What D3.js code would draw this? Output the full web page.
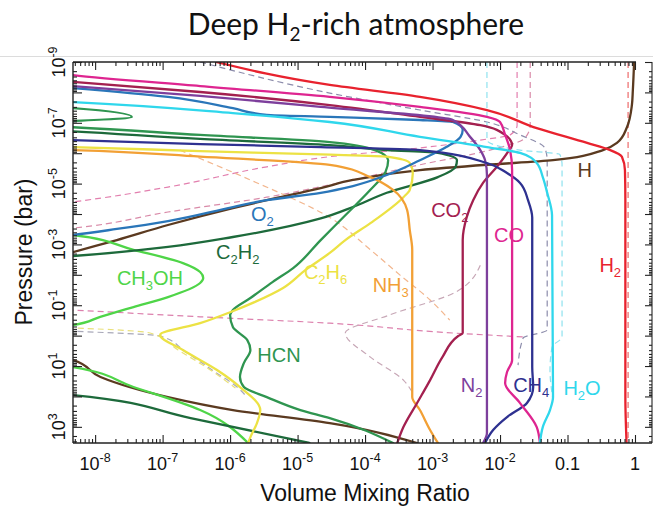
<!DOCTYPE html>
<html>
<head>
<meta charset="utf-8">
<script src="https://cdn.jsdelivr.net/npm/d3@7"></script>
<style>
  html, body { margin: 0; padding: 0; background: #fff; }
  svg { display: block; }
</style>
</head>
<body>
<svg id="chart" width="653" height="507"></svg>
<script>
// Volume mixing ratio profiles, each point is [VMR, pressure in bar], ordered by pressure.
// Points left of the plotted VMR range mark where a profile drops out of view.
const H2 = [[6.2e-7,1e-9],[3.0e-5,5.7e-9],[6.5e-4,1.4e-8],[6.4e-3,3.8e-8],[0.035,1.5e-7],[0.195,4.6e-7],[0.43,7.9e-7],[0.64,1.3e-6],[0.71,3.6e-6],[0.72,3.5e-5],[0.72,100],[0.75,3400]];
const Hatom = [[0.97,1e-9],[0.93,8.3e-9],[0.90,2.6e-8],[0.76,1.4e-7],[0.54,4.6e-7],[0.336,7.9e-7],[0.061,1.7e-6],[6.4e-3,2.4e-6],[6.5e-4,3.6e-6],[6.6e-5,7.6e-6],[2.2e-5,1.4e-5],[3.5e-6,3.5e-5],[1.1e-6,6.4e-5],[1.2e-7,2.3e-4],[2.1e-8,7.2e-4],[4.7e-9,1.8e-3],[1e-9,5e-3],[1e-10,0.3],[1e-9,3],[4.7e-9,6.4],[1.2e-8,23],[1.2e-7,105],[1.1e-6,280],[3.0e-5,750],[5.9e-4,3400]];
const H2O = [[1e-9,1.8e-8],[4.7e-9,2.1e-8],[1.1e-6,4.8e-8],[3.0e-5,9.4e-8],[6.5e-4,2.9e-7],[6.4e-3,6.3e-7],[0.0198,9.8e-7],[0.035,2.1e-6],[0.043,6.1e-6],[0.050,2.0e-5],[0.059,1.1e-4],[0.061,105],[0.055,280],[0.043,1020],[0.039,3400]];
const CH4 = [[1e-9,3.2e-7],[4.7e-9,3.7e-7],[3.6e-7,5.0e-7],[2.2e-5,6.3e-7],[6.5e-4,7.9e-7],[6.4e-3,2.1e-6],[0.0127,4.5e-6],[0.0198,9.5e-6],[0.026,3.5e-5],[0.030,1.3e-4],[0.030,10.8],[0.031,49],[0.0251,165],[0.0127,476],[7.9e-3,1270],[6.0e-3,3400]];
const CO = [[1e-9,1.5e-9],[4.7e-9,2.7e-9],[3.6e-7,6.2e-9],[3.0e-5,1.4e-8],[6.5e-4,3.0e-8],[6.4e-3,6.4e-8],[0.010,9.4e-8],[0.0119,2.5e-7],[0.0141,7.9e-7],[0.0151,3.6e-6],[0.0151,6.4],[0.0127,15.7],[0.0119,36],[0.0198,165],[0.035,1020],[0.039,3400]];
const CO2 = [[1e-9,3.5e-9],[4.7e-9,4.5e-9],[3.6e-7,9.7e-9],[3.0e-5,2.6e-8],[6.5e-4,6.4e-8],[5.1e-3,1.2e-7],[0.0119,2.5e-7],[0.0151,5.4e-7],[0.0131,9.1e-7],[9.0e-3,2.8e-6],[5.6e-3,9.5e-6],[4.0e-3,3.5e-5],[3.2e-3,1.3e-4],[2.8e-3,7.2e-4],[2.8e-3,0.82],[2.4e-3,1.03],[1.4e-3,5.1],[9.2e-4,29],[5.9e-4,165],[3.7e-4,1020],[3.0e-4,3400]];
const N2 = [[1e-9,4.5e-9],[4.7e-9,6.2e-9],[3.6e-7,1.3e-8],[2.2e-5,3.0e-8],[2.0e-3,8.1e-8],[3.6e-3,2.9e-7],[5.1e-3,7.9e-7],[6.0e-3,1.7e-6],[6.4e-3,5.2e-6],[6.4e-3,1600],[5.6e-3,3400]];
const NH3 = [[1e-9,7.2e-7],[4.7e-9,7.9e-7],[3.6e-7,1.3e-6],[3.0e-5,2.4e-6],[1.2e-4,6.1e-6],[2.6e-4,1.6e-5],[4.2e-4,7.4e-5],[4.6e-4,3.4e-4],[5.0e-4,1.5e-3],[5.0e-4,105],[6.5e-4,280],[9.2e-4,1270],[1.2e-3,3400]];
const C2H6 = [[1e-9,5.8e-7],[4.7e-9,6.3e-7],[3.6e-7,8.5e-7],[2.2e-5,1.1e-6],[2.1e-4,1.3e-6],[4.6e-4,2.1e-6],[5.1e-4,4.5e-6],[4.6e-4,1.6e-5],[3.7e-4,2.8e-5],[1.2e-4,2.0e-4],[5.1e-5,7.2e-4],[3.0e-5,1.9e-3],[1.3e-5,7.0e-3],[6.1e-6,0.027],[2.3e-6,0.079],[1.0e-6,0.17],[3.6e-7,0.39],[9.2e-8,0.95],[2.0e-7,2.98],[6.4e-7,13.5],[1.4e-6,49],[2.8e-6,280],[2.5e-6,750],[2.0e-6,2170],[1.85e-6,3400]];
const HCN = [[1e-9,3.0e-8],[4.7e-9,3.3e-8],[3.5e-8,6.4e-8],[4.7e-9,8.7e-8],[1e-9,1.0e-7],[1e-9,1.2e-7],[4.7e-9,1.4e-7],[3.6e-7,2.5e-7],[3.0e-5,4.3e-7],[1.4e-4,7.9e-7],[2.2e-4,1.7e-6],[2.0e-4,4.2e-6],[1.2e-4,1.6e-5],[5.1e-5,1.1e-4],[2.2e-5,7.2e-4],[8.6e-6,6.0e-3],[4.3e-6,0.017],[2.0e-6,0.058],[1.1e-6,0.144],[1.0e-6,0.21],[1.1e-6,0.52],[1.8e-6,1.40],[2.0e-6,2.98],[1.6e-6,8.0],[1.4e-6,23],[1.6e-6,49],[3.5e-6,105],[1.1e-5,280],[3.0e-5,513],[2.6e-4,3400]];
const C2H2 = [[1e-9,1.6e-7],[4.7e-9,1.9e-7],[3.6e-7,3.4e-7],[3.0e-5,5.4e-7],[2.1e-4,7.9e-7],[1.2e-3,9.8e-7],[2.3e-3,1.7e-6],[2.2e-3,2.8e-6],[1.2e-3,6.1e-6],[2.1e-4,2.0e-5],[6.6e-5,5.9e-5],[2.2e-5,1.4e-4],[1.1e-6,5.7e-4],[1.2e-7,1.2e-3],[4.7e-9,2.4e-3],[1e-9,3e-3],[1e-10,1],[1e-9,70],[4.7e-9,90],[2.6e-7,513],[1.5e-5,3400]];
const CH3OH = [[1e-9,4.0e-4],[4.7e-9,4.9e-4],[3.7e-8,1.5e-3],[2.0e-7,4.1e-3],[3.6e-7,8.1e-3],[4.0e-7,0.0127],[3.6e-7,0.0186],[1.2e-7,0.054],[3.7e-8,0.115],[1.19e-8,0.24],[4.7e-9,0.45],[1e-9,0.6],[1e-10,3],[1e-9,9],[4.7e-9,10.8],[3.7e-8,49],[3.6e-7,280],[1.85e-6,3400]];
const O2 = [[1e-9,5.5e-9],[4.7e-9,7.2e-9],[1.2e-7,1.4e-8],[1.1e-6,3.3e-8],[3.5e-6,5.5e-8],[3.0e-5,6.4e-8],[6.5e-4,8.1e-8],[2.0e-3,9.4e-8],[2.8e-3,1.7e-7],[2.6e-3,2.9e-7],[1.6e-3,6.3e-7],[6.5e-4,1.7e-6],[2.1e-4,5.2e-6],[6.6e-5,1.2e-5],[2.2e-5,2.0e-5],[3.5e-6,3.5e-5],[1.1e-6,5.9e-5],[1.2e-7,1.7e-4],[2.1e-8,3.1e-4],[4.7e-9,4.9e-4],[1e-9,7e-4]];

// Comparison profiles drawn dashed
const dashH2 = [[0.79,1e-9],[0.79,3400]];
const dashCO = [[0.0179,1e-9],[0.0179,1.2e-7],[0.0141,2.5e-7],[5.1e-3,3.7e-7],[6.5e-4,6.7e-7],[3.0e-5,1.3e-6],[3.5e-6,2.8e-6],[1.2e-7,1.3e-5],[4.7e-9,4.0e-5],[1e-9,6e-5]];
const dashCO2 = [[0.028,1e-9],[0.028,1.2e-7],[0.0234,3.2e-7],[7.1e-3,7.9e-7],[6.5e-4,2.4e-6],[3.0e-5,1.1e-5],[3.5e-6,2.8e-5],[1.2e-7,8.6e-5],[4.7e-9,2.9e-4],[1e-9,4e-4]];
const dashCH4 = [[3.6e-7,1e-9],[3.0e-5,1.05e-8],[6.5e-4,3.8e-8],[6.4e-3,9.4e-8],[0.0198,2.5e-7],[0.046,6.7e-7],[0.050,1.7e-6],[0.050,0.65],[0.022,1.2],[0.0185,9.3]];
const dashH2O = [[6.4e-3,1e-9],[6.4e-3,3.7e-7],[0.0198,7.9e-7],[0.077,1.1e-6],[0.083,2.4e-6],[0.083,1.1],[0.059,2.37],[0.055,13.5],[0.061,131]];
const dashN2 = [[1e-9,0.12],[4.7e-9,0.144],[3.6e-7,0.24],[3.0e-5,0.39],[2.0e-3,0.82],[0.022,1.1]];
const dashHCN = [[1e-9,0.6],[4.7e-9,0.71],[9.2e-8,1.03],[2.2e-7,3.46],[6.0e-7,15.7],[1.27e-6,49],[1.67e-6,90]];
const dashC2H6 = [[1e-9,0.5],[4.7e-9,0.56],[6.5e-8,0.82],[1.7e-7,2.98],[5.1e-7,13.5],[1.2e-6,53]];
const dashNH3 = [[1.8e-7,7.9e-7],[2.0e-6,7.6e-6],[3.0e-5,1.3e-4],[1.2e-4,1.5e-3],[3.3e-4,0.0102],[9.2e-4,0.067],[1.8e-3,0.31]];
const dashC2H2 = [[5.1e-3,4.8e-3],[2.2e-3,0.037],[2.3e-4,0.21],[5.1e-5,0.82],[1.2e-4,5.1],[3.7e-4,29],[5.0e-4,72]];

// Species labels placed at [VMR, pressure]
const labelNames = ["O2","C2H2","CH3OH","C2H6","NH3","HCN","CO2","CO","H2","H","N2","CH4","H2O"];
const labelVMR   = [3.0e-6,1.3e-6,6.5e-8,2.6e-5,2.4e-4,5.3e-6,1.8e-3,0.0136,0.43,0.18,3.8e-3,0.029,0.164];
const labelP     = [1.0e-4,1.8e-3,0.0127,8.1e-3,0.022,4.3,7.4e-5,4.9e-4,4.8e-3,3.6e-6,42,42,53];

// Tick labels: [base, exponent]
const xTickValues = [1e-8,1e-7,1e-6,1e-5,1e-4,1e-3,1e-2,1e-1,1];
const xTickLabels = [["10","-8"],["10","-7"],["10","-6"],["10","-5"],["10","-4"],["10","-3"],["10","-2"],["0.1",""],["1",""]];
const yTickValues = [1e-9,1e-7,1e-5,1e-3,1e-1,1e1,1e3];
const yTickLabels = [["10","-9"],["10","-7"],["10","-5"],["10","-3"],["10","-1"],["10","1"],["10","3"]];

// ---- drawing ----
const colors = {
  H2:"#e8222e", H:"#5b3a20", H2O:"#2fd7ec", CH4:"#2e3190", CO:"#de2590", CO2:"#a3204f",
  N2:"#7d3f9c", NH3:"#f2a035", C2H6:"#ece244", HCN:"#2f9550", C2H2:"#1d6a3b", CH3OH:"#4fd548", O2:"#2a76b9"
};
const dashColors = {
  H2:"#ee6a6a", CO:"#e27fae", CO2:"#d98aa8", CH4:"#8c8cab", H2O:"#8fe2ef", N2:"#dc80ad",
  HCN:"#a9a9b9", C2H6:"#e9e07a", NH3:"#f2b68e", C2H2:"#c7a7b6"
};

const svg = d3.select("#chart");
const plotL = 73, plotR = 636, plotT = 62, plotB = 443, sideAxisX = 652;

const x = d3.scaleLog().domain([4.7e-9, 1.035]).range([plotL, plotR]);
const y = d3.scaleLog().domain([1e-9, 3400]).range([plotT, plotB]);

// faint rule across the top of the panel
svg.append("line").attr("x1", 0).attr("x2", 653).attr("y1", 56.5).attr("y2", 56.5)
  .attr("stroke", "#dcdcdc").attr("stroke-width", 1);

// title
const title = svg.append("text")
  .attr("x", 356).attr("y", 35).attr("text-anchor", "middle")
  .attr("font-family", "Lato, 'Open Sans', sans-serif").attr("font-size", 30).attr("fill", "#111");
title.append("tspan").text("Deep H");
title.append("tspan").attr("font-size", 19).attr("dy", 6).text("2");
title.append("tspan").attr("dy", -6).text("-rich atmosphere");

svg.append("clipPath").attr("id", "plotClip")
  .append("rect").attr("x", plotL).attr("y", plotT).attr("width", plotR - plotL).attr("height", plotB - plotT);

const line = d3.line()
  .x(d => x(d[0]))
  .y(d => y(d[1]))
  .curve(d3.curveMonotoneY);

const plot = svg.append("g").attr("clip-path", "url(#plotClip)");

// dashed comparison profiles
const dashed = [
  [dashH2,"H2"],[dashCO,"CO"],[dashCO2,"CO2"],[dashCH4,"CH4"],[dashH2O,"H2O"],[dashN2,"N2"],
  [dashHCN,"HCN"],[dashC2H6,"C2H6"],[dashNH3,"NH3"],[dashC2H2,"C2H2"]
];
dashed.forEach(([data, key]) => {
  plot.append("path").attr("d", line(data))
    .attr("fill", "none").attr("stroke", dashColors[key])
    .attr("stroke-width", 1.2).attr("stroke-dasharray", "6,4");
});

// solid profiles
const solid = [
  [Hatom,"H"],[CH3OH,"CH3OH"],[C2H2,"C2H2"],[HCN,"HCN"],[C2H6,"C2H6"],[NH3,"NH3"],
  [O2,"O2"],[CO2,"CO2"],[N2,"N2"],[CH4,"CH4"],[CO,"CO"],[H2O,"H2O"],[H2,"H2"]
];
solid.forEach(([data, key]) => {
  plot.append("path").attr("d", line(data))
    .attr("fill", "none").attr("stroke", colors[key])
    .attr("stroke-width", 2.3).attr("stroke-linejoin", "round").attr("stroke-linecap", "round");
});

// ---- axes ----
function logTicks(lo, hi) {
  const major = [], minor = [];
  for (let e = Math.floor(Math.log10(lo)); e <= Math.ceil(Math.log10(hi)); e++) {
    for (let m = 1; m < 10; m++) {
      const v = m * Math.pow(10, e);
      if (v < lo * 0.999 || v > hi * 1.001) continue;
      (m === 1 ? major : minor).push(v);
    }
  }
  return { major, minor };
}
const xt = logTicks(4.7e-9, 1.035);
const yt = logTicks(1e-9, 3400);
const axisColor = "#222";

function tickAxis(g, axis) {
  g.call(axis);
  g.select(".domain").remove();
  g.selectAll("line").attr("stroke", axisColor).attr("stroke-width", 1.1);
}

[[d3.axisBottom, plotB], [d3.axisTop, plotT]].forEach(([mk, pos]) => {
  tickAxis(svg.append("g").attr("transform", `translate(0,${pos})`),
    mk(x).tickValues(xt.major).tickSize(-8).tickFormat(""));
  tickAxis(svg.append("g").attr("transform", `translate(0,${pos})`),
    mk(x).tickValues(xt.minor).tickSize(-4).tickFormat(""));
});
tickAxis(svg.append("g").attr("transform", `translate(${plotL},0)`),
  d3.axisLeft(y).tickValues(yt.major).tickSize(-9).tickFormat(""));
tickAxis(svg.append("g").attr("transform", `translate(${plotL},0)`),
  d3.axisLeft(y).tickValues(yt.minor).tickSize(-4).tickFormat(""));

// adjoining panel's axis at the right margin
tickAxis(svg.append("g").attr("transform", `translate(${sideAxisX},0)`),
  d3.axisLeft(y).tickValues(yt.major).tickSize(7).tickFormat(""));
tickAxis(svg.append("g").attr("transform", `translate(${sideAxisX},0)`),
  d3.axisLeft(y).tickValues(yt.minor).tickSize(3).tickFormat(""));
svg.append("line").attr("x1", sideAxisX).attr("x2", sideAxisX).attr("y1", plotT).attr("y2", plotB)
  .attr("stroke", axisColor).attr("stroke-width", 1.1);

// frame lines
svg.append("line").attr("x1", plotL).attr("x2", plotR).attr("y1", plotT).attr("y2", plotT)
  .attr("stroke", axisColor).attr("stroke-width", 1.4);
svg.append("line").attr("x1", plotL).attr("x2", sideAxisX).attr("y1", plotB).attr("y2", plotB)
  .attr("stroke", axisColor).attr("stroke-width", 1.4);
svg.append("line").attr("x1", plotL).attr("x2", plotL).attr("y1", plotT).attr("y2", plotB)
  .attr("stroke", axisColor).attr("stroke-width", 1.4);

// tick labels
const tickFont = "'Liberation Sans', Arial, sans-serif";
xTickValues.forEach((v, i) => {
  const [base, exp] = xTickLabels[i];
  const t = svg.append("text").attr("x", x(v)).attr("y", 470)
    .attr("text-anchor", "middle").attr("font-family", tickFont).attr("font-size", 18).attr("fill", "#111");
  t.append("tspan").text(base);
  if (exp) t.append("tspan").attr("font-size", 12.5).attr("dy", -8).text(exp);
});
yTickValues.forEach((v, i) => {
  const [base, exp] = yTickLabels[i];
  const t = svg.append("text").attr("transform", `translate(65,${y(v)}) rotate(-90)`)
    .attr("text-anchor", "middle").attr("font-family", tickFont).attr("font-size", 18).attr("fill", "#111");
  t.append("tspan").text(base);
  if (exp) t.append("tspan").attr("font-size", 12.5).attr("dy", -8).text(exp);
});

// axis titles
svg.append("text").attr("x", 365).attr("y", 501).attr("text-anchor", "middle")
  .attr("font-family", tickFont).attr("font-size", 23).attr("fill", "#111").text("Volume Mixing Ratio");
svg.append("text").attr("transform", "translate(32,252) rotate(-90)").attr("text-anchor", "middle")
  .attr("font-family", tickFont).attr("font-size", 23).attr("fill", "#111").text("Pressure (bar)");

// species labels with subscripted digits
const labelSize = 20;
labelNames.forEach((name, i) => {
  const t = svg.append("text")
    .attr("x", x(labelVMR[i])).attr("y", y(labelP[i]) + 7)
    .attr("text-anchor", "middle").attr("font-family", tickFont)
    .attr("font-size", labelSize).attr("fill", colors[name]);
  let shifted = false;
  name.split(/(\d+)/).filter(s => s.length).forEach(part => {
    const isSub = /^\d+$/.test(part);
    const ts = t.append("tspan").text(part);
    if (isSub) { ts.attr("font-size", 13).attr("dy", 5); shifted = true; }
    else if (shifted) { ts.attr("dy", -5); shifted = false; }
  });
});
</script>
</body>
</html>
